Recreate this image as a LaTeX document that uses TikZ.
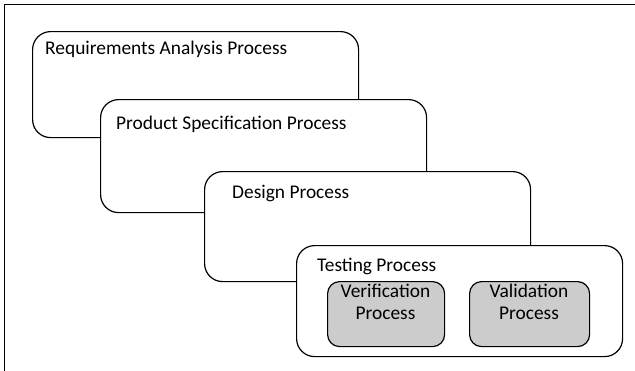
\documentclass[tikz,border=0pt]{standalone}
\usepackage{fontspec}
\setmainfont{Carlito}
\begin{document}
\begin{tikzpicture}[x=1pt,y=-1pt,
  procbox/.style={draw, line width=1.2pt, fill=white, rounded corners=18pt, anchor=north west, minimum width=326pt, inner sep=0pt},
  subbox/.style={draw, line width=1.2pt, fill=gray!40, rounded corners=12pt, anchor=north west, inner sep=0pt, minimum height=65pt},
  proctext/.style={anchor=base west, inner sep=0pt, font=\fontsize{19.4}{22}\selectfont},
  subtext/.style={anchor=north, inner sep=0pt, align=center, font=\fontsize{19.4}{22}\selectfont}]

\useasboundingbox (0,0) rectangle (635,370);
\clip (0,0) rectangle (635,370);
\draw[line width=0.8pt] (4,4) rectangle (645,380);

\node[procbox, minimum height=106pt] (req) at (32,31) {};
\node[proctext] (reqtext) at (45,54) {Requirements Analysis Process};

\node[procbox, minimum height=113pt] (spec) at (100,99) {};
\node[proctext] (spectext) at (116,129) {Product Specification Process};

\node[procbox, minimum height=110pt] (des) at (204,171) {};
\node[proctext] (destext) at (232,198) {Design Process};

\node[procbox, minimum height=111pt] (test) at (296,245) {};
\node[proctext] (testtext) at (317,271) {Testing Process};

\node[subbox, minimum width=117pt] (ver) at (327,281) {};
\node[subtext] (vertext) at (385.5,284) {Verification\\Process};

\node[subbox, minimum width=120pt] (val) at (469,281) {};
\node[subtext] (valtext) at (529,284) {Validation\\Process};

\end{tikzpicture}
\end{document}
